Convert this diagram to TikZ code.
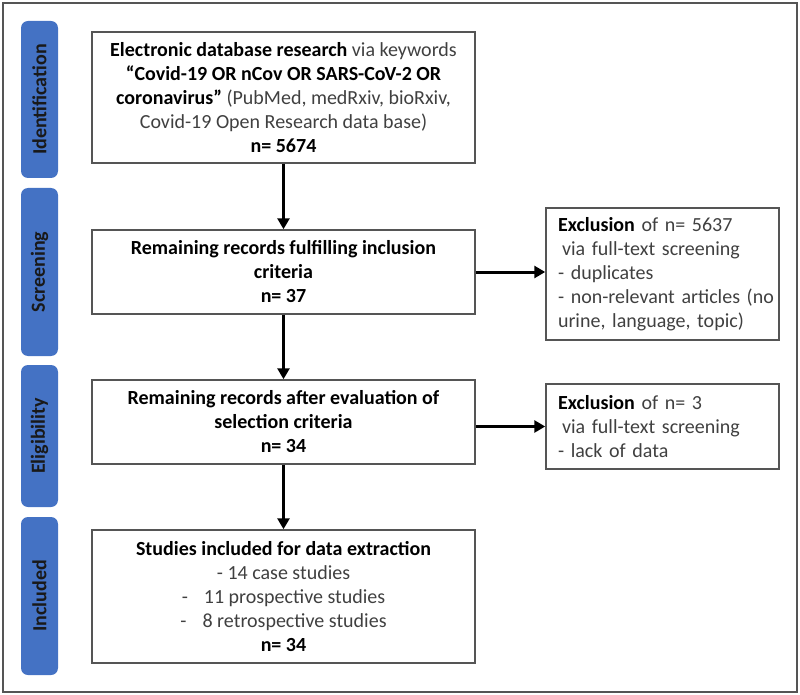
\documentclass[tikz,border=0pt]{standalone}
\usepackage{fontspec}
\setmainfont{Carlito}
\usetikzlibrary{arrows.meta}
\definecolor{phaseblue}{RGB}{68,114,196}
\definecolor{boxgray}{RGB}{85,85,85}
\definecolor{txtgray}{RGB}{64,64,64}
\newcommand{\bt}[1]{\textcolor{black}{\textbf{#1}}}

\begin{document}
\begin{tikzpicture}[x=1pt, y=-1pt, >={Triangle[length=11pt,width=12pt]},
every node/.style={font=\fontsize{20}{24}\selectfont, text=txtgray},
phase/.style={fill=phaseblue, rounded corners=7pt, rotate=90, minimum height=37pt,
  inner sep=0pt, text=black!90, font=\fontsize{20}{24}\selectfont\bfseries},
mainbox/.style={draw=boxgray, line width=1.5pt, minimum width=383pt, align=center, inner sep=0pt},
exclbox/.style={draw=boxgray, line width=1.5pt, text width=209pt, inner xsep=12pt,
  inner ysep=0pt, align=left},
flow/.style={->, line width=3pt}]
\useasboundingbox (0,0) rectangle (800,695);
\draw [boxgray, line width=2pt] (3,3) rectangle (797,692);

\node [phase, minimum width=157pt] (ident) at (39.5,99.5) {Identification};
\node [phase, minimum width=168pt] (screen) at (39.5,272) {Screening};
\node [phase, minimum width=142pt] (elig) at (39.5,436) {Eligibility};
\node [phase, minimum width=158pt] (incl) at (39.5,596) {Included};

\node [mainbox, minimum height=131pt] (search) at (283.5,97.5)
  {\bt{Electronic database research} via keywords\\
   \bt{“Covid-19 OR nCov OR SARS-CoV-2 OR}\\
   \bt{coronavirus”} (PubMed, medRxiv, bioRxiv,\\
   Covid-19 Open Research data base)\\
   \bt{n= 5674}};
\node [mainbox, minimum height=84pt] (remain) at (283.5,272)
  {\bt{Remaining records fulfilling inclusion}\\
   \bt{criteria}\\
   \bt{n= 37}};
\node [mainbox, minimum height=84pt] (select) at (283.5,422)
  {\bt{Remaining records after evaluation of}\\
   \bt{selection criteria}\\
   \bt{n= 34}};
\node [mainbox, minimum height=133pt] (studies) at (283.5,596.5)
  {\bt{Studies included for data extraction}\\
   - 14 case studies\\
   -\hspace{16pt}11 prospective studies\\
   -\hspace{16pt}8 retrospective studies\\
   \bt{n= 34}};

\node [exclbox, minimum height=132pt] (excl1) at (662.5,274)
  {\bt{Exclusion} of n= 5637\\
   \hspace{4pt}via full-text screening\\
   - duplicates\\
   \mbox{- non-relevant articles (no}\\
   urine, language, topic)};
\node [exclbox, minimum height=85pt] (excl2) at (662.5,426.5)
  {\bt{Exclusion} of n= 3\\
   \hspace{4pt}via full-text screening\\
   - lack of data};

\draw [flow] (search) -- (remain);
\draw [flow] (remain) -- (select);
\draw [flow] (select) -- (studies);
\draw [flow] (remain.east) -- (remain.east -| excl1.west);
\draw [flow] (excl2.west -| select.east) -- (excl2.west);
\end{tikzpicture}
\end{document}
